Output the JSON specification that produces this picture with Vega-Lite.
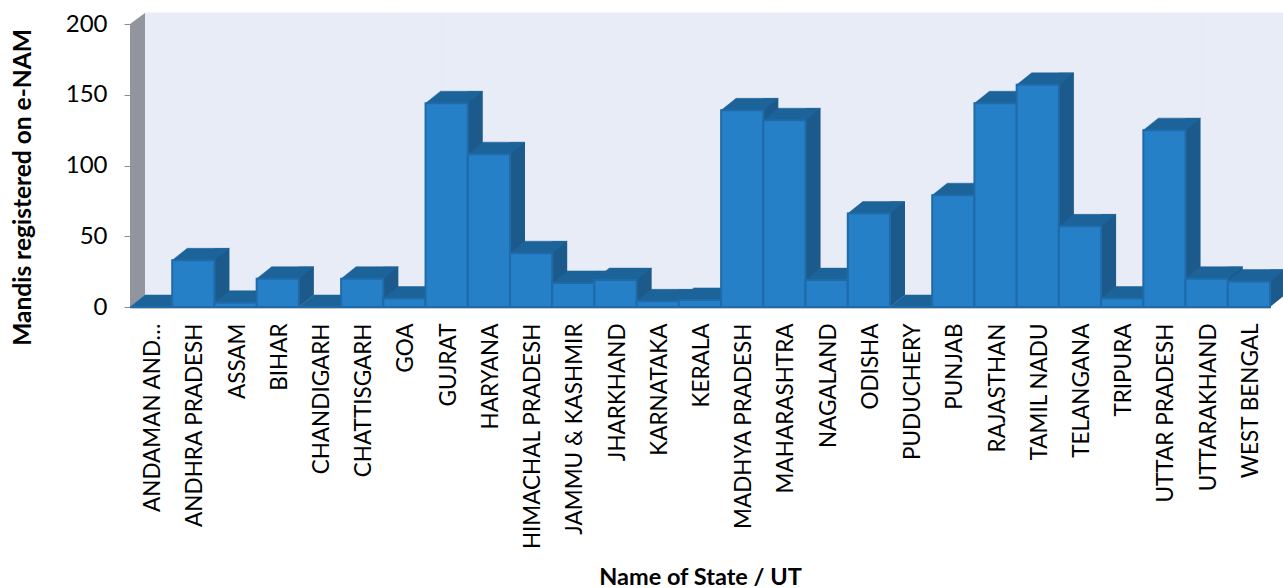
{
  "$schema": "https://vega.github.io/schema/vega-lite/v6.json",
  "width": 1140,
  "height": 283,
  "autosize": {"type": "none"},
  "padding": {"left": 130, "top": 24, "right": 13, "bottom": 281},
  "background": "white",
  "view": {"stroke": null},
  "config": {"font": "Lato"},
  "data": {"values": [
    {"state": "ANDAMAN AND…", "mandis": 0},
    {"state": "ANDHRA PRADESH", "mandis": 33},
    {"state": "ASSAM", "mandis": 3},
    {"state": "BIHAR", "mandis": 20},
    {"state": "CHANDIGARH", "mandis": 0},
    {"state": "CHATTISGARH", "mandis": 20},
    {"state": "GOA", "mandis": 6},
    {"state": "GUJRAT", "mandis": 144},
    {"state": "HARYANA", "mandis": 108},
    {"state": "HIMACHAL PRADESH", "mandis": 38},
    {"state": "JAMMU & KASHMIR", "mandis": 17},
    {"state": "JHARKHAND", "mandis": 19},
    {"state": "KARNATAKA", "mandis": 4},
    {"state": "KERALA", "mandis": 5},
    {"state": "MADHYA PRADESH", "mandis": 139},
    {"state": "MAHARASHTRA", "mandis": 132},
    {"state": "NAGALAND", "mandis": 19},
    {"state": "ODISHA", "mandis": 66},
    {"state": "PUDUCHERY", "mandis": 0},
    {"state": "PUNJAB", "mandis": 79},
    {"state": "RAJASTHAN", "mandis": 144},
    {"state": "TAMIL NADU", "mandis": 157},
    {"state": "TELANGANA", "mandis": 57},
    {"state": "TRIPURA", "mandis": 6},
    {"state": "UTTAR PRADESH", "mandis": 125},
    {"state": "UTTARAKHAND", "mandis": 20},
    {"state": "WEST BENGAL", "mandis": 18}
  ]},
  "encoding": {
    "x": {
      "field": "state",
      "type": "nominal",
      "sort": null,
      "scale": {"paddingInner": 0, "paddingOuter": 0},
      "axis": {
        "title": "Name of State / UT",
        "titleFont": "Lato",
        "titleFontSize": 23.5,
        "titleFontWeight": "bold",
        "titleColor": "#000000",
        "titleY": 258,
        "labelAngle": -90,
        "labelAlign": "right",
        "labelBaseline": "middle",
        "labelFont": "Lato",
        "labelFontSize": 22.5,
        "labelColor": "#000000",
        "labelLimit": 400,
        "labelPadding": 16,
        "labelOffset": 2,
        "labelOverlap": false,
        "ticks": false,
        "domainColor": "#8a8f99",
        "domainWidth": 2
      }
    }
  },
  "layer": [
    {
      "description": "Back wall, one panel per category shifted into depth",
      "mark": {"type": "bar", "color": "#E8ECF7", "stroke": "#E8ECF7", "strokeWidth": 1, "xOffset": 15, "yOffset": -11, "y2Offset": -12},
      "encoding": {"y": {"datum": 200}, "y2": {"datum": 0}}
    },
    {
      "description": "Left wall",
      "transform": [{"filter": "datum.state === 'ANDAMAN AND…'"}],
      "mark": {"type": "point", "filled": true, "opacity": 1, "size": 4, "color": "#92959E", "shape": "M-21.11,0 L-6.11,-12 L-6.11,-294 L-21.11,-283 Z"},
      "encoding": {"y": {"datum": 0}}
    },
    {
      "description": "Right side of each column, main part",
      "mark": {"type": "bar", "width": 15, "color": "#1B5A8A", "xOffset": 28.6, "yOffset": -12, "y2Offset": -12},
      "encoding": {
        "y": {
          "field": "mandis",
          "type": "quantitative",
          "scale": {"domain": [0, 200]},
          "axis": {
            "title": "Mandis registered on e-NAM",
            "titleFont": "Lato",
            "titleFontSize": 24.5,
            "titleFontWeight": "bold",
            "titleColor": "#000000",
            "titleX": -95,
            "titleY": 163,
            "values": [0, 50, 100, 150, 200],
            "grid": false,
            "domain": false,
            "tickColor": "#8a8f99",
            "tickSize": 6,
            "labelFont": "Lato",
            "labelFontSize": 24,
            "labelColor": "#000000",
            "labelPadding": 17
          }
        },
        "y2": {"datum": 0}
      }
    },
    {
      "description": "Right side of each column, wedge at the floor",
      "mark": {"type": "point", "filled": true, "opacity": 1, "size": 4, "color": "#1B5A8A", "shape": "M21.11,0 L21.11,-12 L36.11,-12 Z"},
      "encoding": {"y": {"datum": 0}}
    },
    {
      "description": "Top face of each column",
      "mark": {"type": "point", "filled": true, "opacity": 1, "size": 4, "color": "#1C6399", "stroke": "#1C6399", "strokeWidth": 0.5, "shape": "M-21.11,0 L21.11,0 L36.11,-12 L-6.11,-12 Z"},
      "encoding": {"y": {"field": "mandis", "type": "quantitative"}}
    },
    {
      "description": "Front face of each column",
      "mark": {"type": "bar", "color": "#2680C8", "stroke": "#1F6AA8", "strokeWidth": 2},
      "encoding": {"y": {"field": "mandis", "type": "quantitative"}}
    }
  ]
}
